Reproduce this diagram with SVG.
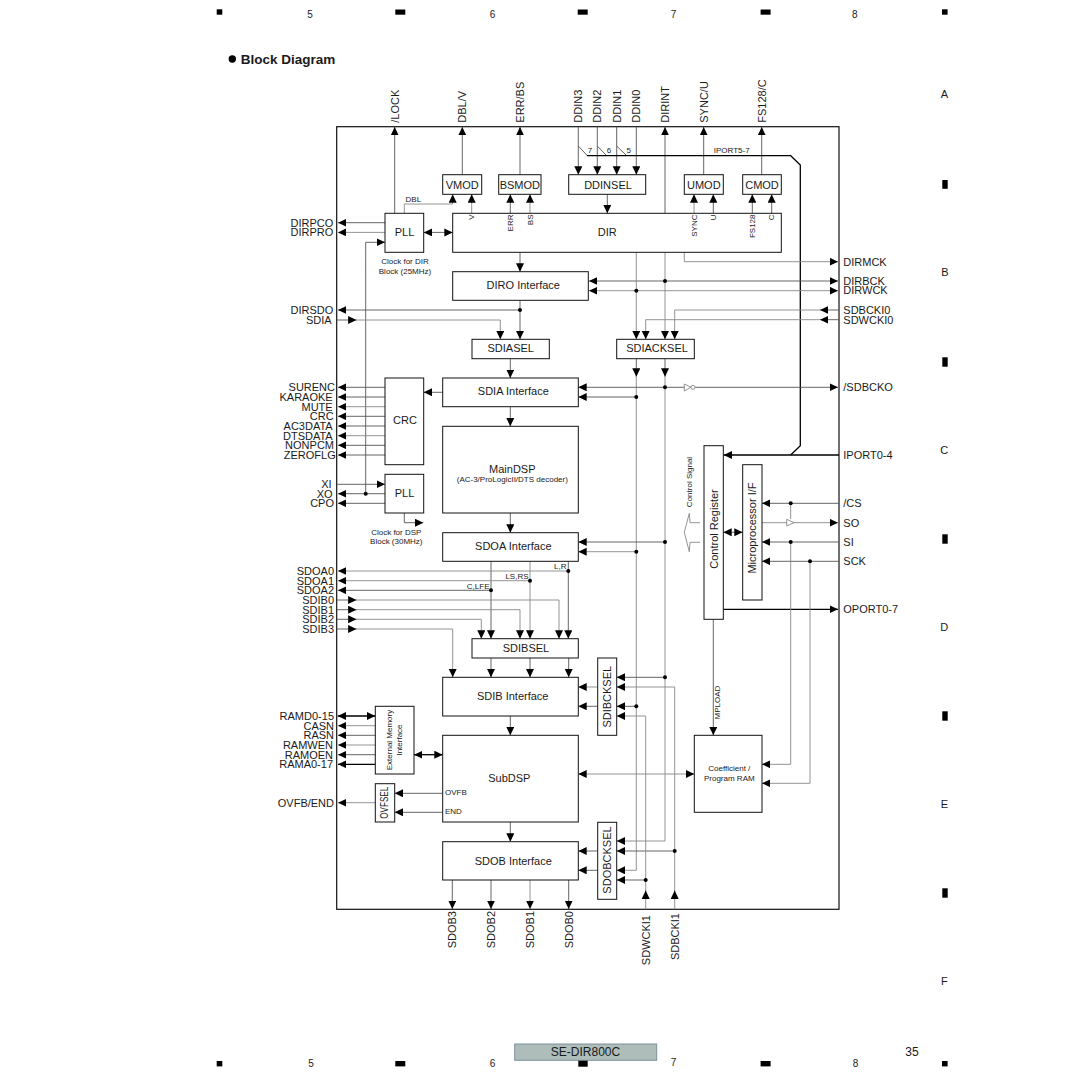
<svg xmlns="http://www.w3.org/2000/svg" width="1080" height="1080" viewBox="0 0 1080 1080">
<style>
text{font-family:"Liberation Sans",Arial,sans-serif;fill:#1a1a1a;dominant-baseline:central}
.f11{font-size:11px}.f8{font-size:8px}.f10{font-size:10px}
.m{text-anchor:middle}.e{text-anchor:end}
.box{fill:#fff;stroke:#111;stroke-width:1}
.mark{fill:#000}
#sheet{opacity:.999}
#connectors path{fill:none;stroke:#555;stroke-width:.9}
#connectors .k{stroke:#000;stroke-width:1.3}
#connectors .g{stroke:#888;stroke-width:.9}
#connectors .a{marker-end:url(#ah)}
#connectors .d{marker-end:url(#ah);marker-start:url(#ah)}
#connectors circle{fill:#000}
.buf{fill:#fff;stroke:#888;stroke-width:.9}
</style>
<defs>
<marker id="ah" markerUnits="userSpaceOnUse" markerWidth="10" markerHeight="10" refX="8.4" refY="4" orient="auto-start-reverse"><path d="M0 0L8.4 4L0 8z" fill="#000"/></marker>
</defs>
<g id="sheet">
<rect width="1080" height="1080" fill="#fff"/>

<!-- page registration marks and grid references -->
<g id="page-frame">
<g class="mark">
<rect x="216.7" y="9.3" width="5.6" height="5.4"/><rect x="395.3" y="9.5" width="10" height="5.2"/><rect x="577.7" y="9.5" width="10" height="5.2"/><rect x="760.6" y="9.5" width="10" height="5.2"/><rect x="942" y="9.3" width="5.6" height="5.4"/>
<rect x="216.7" y="1061" width="5.6" height="5.4"/><rect x="395.3" y="1061" width="10" height="5.4"/><rect x="760.6" y="1061" width="10" height="5.4"/><rect x="942" y="1061" width="5.6" height="5.4"/>
<rect x="942.3" y="180" width="5.4" height="8.8"/><rect x="942.3" y="357.3" width="5.4" height="9.4"/><rect x="942.3" y="534.3" width="5.4" height="9.4"/><rect x="942.3" y="711.3" width="5.4" height="9.4"/><rect x="942.3" y="888.3" width="5.4" height="9.4"/>
</g>
<text class="f10 m" x="310" y="14">5</text><text class="f10 m" x="492.5" y="14">6</text><text class="f10 m" x="673.6" y="14">7</text><text class="f10 m" x="854.7" y="14">8</text>
<text class="f10 m" x="311" y="1063">5</text><text class="f10 m" x="492.5" y="1063">6</text><text class="f10 m" x="673.6" y="1062">7</text><text class="f10 m" x="855.6" y="1063">8</text>
<text class="f11 m" x="944.3" y="94.3">A</text><text class="f11 m" x="945" y="271.7">B</text><text class="f11 m" x="944.3" y="449.5">C</text><text class="f11 m" x="944.3" y="626.7">D</text><text class="f11 m" x="944.3" y="803.8">E</text><text class="f11 m" x="944.3" y="981">F</text>
<circle cx="232.3" cy="59" r="3.7" fill="#000"/>
<text x="240.7" y="59" style="font-size:13.5px;font-weight:bold">Block Diagram</text>
</g>

<g id="footer">
<rect x="514.7" y="1044" width="142" height="16.3" fill="#aebcba" stroke="#7d8f9b"/>
<text class="m" x="585.5" y="1052" style="font-size:12px">SE-DIR800C</text>
<rect class="mark" x="578.3" y="1060.7" width="9.4" height="6"/>
<text class="m" x="912" y="1052" style="font-size:12px">35</text>
</g>

<rect id="frame" x="336.7" y="126.7" width="502.3" height="782.6" fill="#fff" stroke="#111" stroke-width="1.2"/>

<!-- signal routing -->
<g id="connectors">
<!-- top edge outputs and DDIN inputs -->
<path class="a" d="M394.7 213.3V127"/>
<path class="a" d="M462.3 174.7V127"/>
<path class="a" d="M520 174.7V127"/>
<path class="a" d="M665 213.3V127"/>
<path class="a" d="M703.7 174.7V127"/>
<path class="a" d="M761.7 174.7V127"/>
<path class="a" d="M578.3 127V174.7"/>
<path class="a" d="M597.3 127V174.7"/>
<path class="a" d="M616.7 127V174.7"/>
<path class="a" d="M636.3 127V174.7"/>
<path d="M578.3 146L586.7 155M597.3 146L606 155M616.7 146L626 155"/>
<path class="k" d="M586.7 155.7H790.7L800.3 165V445.7L790.7 455"/>
<!-- mode blocks -->
<path class="g a" d="M404.3 213.3V204H452.7V194.3"/>
<path class="g a" d="M471.7 213.3V194.3"/>
<path class="a" d="M510.3 213.3V194.3"/>
<path class="g a" d="M530 213.3V194.3"/>
<path class="g a" d="M694 213.3V194.3"/>
<path class="a" d="M713.3 213.3V194.3"/>
<path class="a" d="M752.3 213.3V194.3"/>
<path class="a" d="M771.7 213.3V194.3"/>
<path class="a" d="M607.3 194.3V213.3"/>
<!-- DIR PLL -->
<path class="a" d="M385 222.7H338"/>
<path class="g a" d="M385 232.4H338"/>
<path class="d" d="M423.7 232.4H452.7"/>
<path class="a" d="M365.7 493.7V242.3H385"/>
<!-- DIR outputs -->
<path class="a" d="M520 252.3V271.7"/>
<path class="g a" d="M684.3 252.3V261.7H838"/>
<path class="d" d="M589 281H838"/>
<path class="g d" d="M589 290.7H838"/>
<path class="g a" d="M636.3 252.3V339.3"/>
<path class="g a" d="M665 252.3V339.3"/>
<path class="a" d="M839 310H820"/><path class="g a" d="M820 310H674.7V339.3"/>
<path class="a" d="M839 319.7H820"/><path class="g a" d="M820 319.7H645.7V339.3"/>
<!-- SDIA input selection -->
<path class="a" d="M520 300.3V339.3"/>
<path class="a" d="M520 310H338"/>
<path class="a" d="M337 320H356.5"/><path class="g a" d="M356 320H500.3V339.3"/>
<path class="a" d="M510.3 358.7V378"/>
<path class="a" d="M442.7 392.3H423.7"/>
<path class="a" d="M385 387.3H338"/><path class="a" d="M385 397H338"/><path class="g a" d="M385 406.7H338"/><path class="a" d="M385 416.3H338"/><path class="a" d="M385 426H338"/><path class="g a" d="M385 435.7H338"/><path class="a" d="M385 445.3H338"/><path class="a" d="M385 455H338"/>
<!-- DSP PLL -->
<path class="a" d="M337 484.3H385"/>
<path class="a" d="M385 493.7H338"/>
<path class="a" d="M385 503.3H338"/>
<path class="a" d="M404.3 513V522.7H423.3"/>
<!-- audio data path -->
<path class="a" d="M510.3 406.7V426.3"/>
<path class="a" d="M510.3 513V532.7"/>
<path class="a" d="M510.3 716V735.3"/>
<path class="a" d="M510.3 822V841.7"/>
<path class="a" d="M491 561.3V638.7"/>
<path class="g a" d="M530 561.3V638.7"/>
<path class="a" d="M568.3 561.3V638.7"/>
<path class="g a" d="M568.3 571H338"/>
<path class="g a" d="M530 580.7H338"/>
<path class="a" d="M491 590.3H338"/>
<path class="a" d="M337 600H356.5"/><path class="g a" d="M356 600H559V638.7"/>
<path class="a" d="M337 609.7H356.5"/><path class="g a" d="M356 609.7H520V638.7"/>
<path class="a" d="M337 619.3H356.5"/><path class="g a" d="M356 619.3H481.3V638.7"/>
<path class="a" d="M337 629H356.5"/><path class="g a" d="M356 629H452.7V677.3"/>
<path class="a" d="M491 658V677.3"/>
<path class="a" d="M530 658V677.3"/>
<path class="a" d="M568.7 658V677.3"/>
<path class="a" d="M452.3 880V909"/>
<path class="a" d="M491 880V909"/>
<path class="g a" d="M530 880V909"/>
<path class="a" d="M568.7 880V909"/>
<!-- external memory and flags -->
<path class="k d" d="M337.7 716H375.3"/>
<path class="g a" d="M375.3 725.7H338"/>
<path class="a" d="M375.3 735.3H338"/>
<path class="g a" d="M375.3 745H338"/>
<path class="a" d="M375.3 754.7H338"/>
<path class="k a" d="M375.3 764.3H338"/>
<path class="k d" d="M414 754.7H442.7"/>
<path class="g a" d="M375.3 802.7H338"/>
<path class="a" d="M442.7 793.3H394.7"/>
<path class="a" d="M442.7 812.3H394.7"/>
<!-- clock distribution -->
<path class="a" d="M636.3 358.7V376.7"/><path class="g a" d="M636.3 376V870.3H616.7"/>
<path class="a" d="M665 358.7V376.7"/><path class="g a" d="M665 376V841H616.7"/>
<path class="d" d="M578.3 387.3H838"/>
<path class="a" d="M636.3 397H578.3"/>
<path class="a" d="M665 542H578.3"/>
<path class="g a" d="M636.3 551.7H578.3"/>
<path class="a" d="M665 677.3H616.7"/>
<path class="g a" d="M674.7 687H616.7"/>
<path class="a" d="M636.3 706.3H616.7"/>
<path class="g a" d="M645.7 716H616.7"/>
<path class="g a" d="M597.7 687H578.3"/>
<path class="a" d="M597.7 706.3H578.3"/>
<path class="a" d="M597.7 851H578.3"/>
<path class="a" d="M597.7 870.3H578.3"/>
<path class="a" d="M674.7 851H616.7"/>
<path class="a" d="M645.7 880H616.7"/>
<path class="g" d="M645.7 909.3V716"/>
<path class="g" d="M674.7 909.3V687"/>
<path class="a" d="M645.7 898.9V890.5"/>
<path class="a" d="M674.7 898.9V890.5"/>
<!-- control path -->
<path class="k a" d="M839 455H723.6"/>
<path class="d" d="M723.3 532.3H742.7"/>
<path class="k a" d="M723.3 609.3H838"/>
<path class="a" d="M713.3 619.3V735.3"/>
<path class="g d" d="M578.3 774H694.3"/>
<path class="a" d="M839 503.3H762"/>
<path class="g a" d="M762 522.7H838"/>
<path class="g" d="M790.7 503.3V519"/>
<path class="a" d="M839 542H762"/>
<path class="a" d="M839 561.3H762"/>
<path class="g a" d="M790.7 542V764.3H762"/>
<path class="g a" d="M810 561.3V783.3H762"/>
<path class="g" d="M700 522.7H690L689.3 513.3L684.3 532.3L689.3 551.7L690 542.3H700"/>
<polygon class="buf" points="684.3,384 691,387.3 684.3,391"/><circle class="buf" style="fill:#fff" cx="693" cy="387.3" r="2"/>
<polygon class="buf" points="786.7,519.3 794,522.7 786.7,526"/>
<!-- junction dots -->
<circle cx="665" cy="281" r="2"/><circle cx="636.3" cy="290.7" r="2"/><circle cx="520" cy="310" r="2"/>
<circle cx="665" cy="387.3" r="2"/><circle cx="636.3" cy="397" r="2"/><circle cx="665" cy="542" r="2"/><circle cx="636.3" cy="551.7" r="2"/>
<circle cx="365.7" cy="493.7" r="2"/><circle cx="568.3" cy="571" r="2"/><circle cx="530" cy="580.7" r="2"/><circle cx="491" cy="590.3" r="2"/>
<circle cx="665" cy="677.3" r="2"/><circle cx="636.3" cy="706.3" r="2"/><circle cx="674.7" cy="851" r="2"/><circle cx="645.7" cy="880" r="2"/>
<circle cx="790.7" cy="503.3" r="2"/><circle cx="790.7" cy="542" r="2"/><circle cx="810" cy="561.3" r="2"/>
</g>

<!-- functional blocks -->
<g id="vmod"><rect class="box" x="442.7" y="174.7" width="39" height="19.6"/><text class="f11 m" x="462.2" y="184.5">VMOD</text></g>
<g id="bsmod"><rect class="box" x="498.7" y="174.7" width="42.3" height="19.6"/><text class="f11 m" x="519.8" y="184.5">BSMOD</text></g>
<g id="ddinsel"><rect class="box" x="568.7" y="174.7" width="77" height="19.6"/><text class="f11 m" x="608" y="184.5">DDINSEL</text></g>
<g id="umod"><rect class="box" x="684.3" y="174.7" width="39" height="19.6"/><text class="f11 m" x="703.8" y="184.5">UMOD</text></g>
<g id="cmod"><rect class="box" x="742.7" y="174.7" width="38.6" height="19.6"/><text class="f11 m" x="762" y="184.5">CMOD</text></g>
<g id="pll-dir"><rect class="box" x="385" y="213.3" width="38.7" height="39"/><text class="f11 m" x="404.5" y="232.3">PLL</text></g>
<g id="dir"><rect class="box" x="452.7" y="213.3" width="328.6" height="39"/><text class="f11 m" x="607.3" y="232.3">DIR</text></g>
<g id="diro"><rect class="box" x="452.7" y="271.7" width="135.6" height="28.6"/><text class="f11 m" x="523.3" y="285.3">DIRO Interface</text></g>
<g id="sdiasel"><rect class="box" x="472" y="339.3" width="77.3" height="19.4"/><text class="f11 m" x="510.7" y="348.3">SDIASEL</text></g>
<g id="sdiacksel"><rect class="box" x="616.7" y="339.3" width="77.6" height="19.4"/><text class="f11 m" x="657" y="348.3">SDIACKSEL</text></g>
<g id="sdia"><rect class="box" x="442.7" y="378" width="135.6" height="28.7"/><text class="f11 m" x="513.3" y="391.3">SDIA Interface</text></g>
<g id="crc"><rect class="box" x="385" y="378" width="38.7" height="86.7"/><text class="f11 m" x="405" y="420.3">CRC</text></g>
<g id="maindsp"><rect class="box" x="442.7" y="426.3" width="135.6" height="86.7"/><text class="f11 m" x="512.3" y="469.3">MainDSP</text><text class="f8 m" x="512.3" y="479.3">(AC-3/ProLogicII/DTS decoder)</text></g>
<g id="pll-dsp"><rect class="box" x="385" y="474.3" width="38.7" height="38.7"/><text class="f11 m" x="404.5" y="493.3">PLL</text></g>
<g id="sdoa"><rect class="box" x="442.7" y="532.7" width="135.6" height="28.6"/><text class="f11 m" x="513.3" y="546.3">SDOA Interface</text></g>
<g id="sdibsel"><rect class="box" x="472" y="638.7" width="106.3" height="19.3"/><text class="f11 m" x="526" y="648">SDIBSEL</text></g>
<g id="sdib"><rect class="box" x="442.7" y="677.3" width="135.6" height="38.7"/><text class="f11 m" x="512.7" y="696.3">SDIB Interface</text></g>
<g id="subdsp"><rect class="box" x="442.7" y="735.3" width="135.6" height="86.7"/><text class="f11 m" x="509.3" y="777.7">SubDSP</text><text class="f8" x="445" y="792">OVFB</text><text class="f8" x="445" y="811.5">END</text></g>
<g id="sdob"><rect class="box" x="442.7" y="841.7" width="135.6" height="38.3"/><text class="f11 m" x="513.3" y="860.7">SDOB Interface</text></g>
<g id="extmem"><rect class="box" x="375.3" y="706.3" width="38.7" height="67.7"/><text class="f8 m" transform="rotate(-90 389.3 740)" x="389.3" y="740">External Memory</text><text class="f8 m" transform="rotate(-90 399.3 740)" x="399.3" y="740">Interface</text></g>
<g id="ovfsel"><rect class="box" x="375.3" y="783.7" width="19.4" height="38.3"/><text class="f10 m" transform="rotate(-90 385 802.7)" x="385" y="802.7" textLength="32" lengthAdjust="spacingAndGlyphs">OVFSEL</text></g>
<g id="sdibcksel"><rect class="box" x="597.7" y="658" width="19" height="77.3"/><text class="f11 m" transform="rotate(-90 606.7 696.7)" x="606.7" y="696.7">SDIBCKSEL</text></g>
<g id="sdobcksel"><rect class="box" x="597.7" y="822.3" width="19" height="77"/><text class="f11 m" transform="rotate(-90 606.7 860)" x="606.7" y="860">SDOBCKSEL</text></g>
<g id="control-register"><rect class="box" x="704" y="445.7" width="19.3" height="173.6"/><text class="f11 m" transform="rotate(-90 713.6 529)" x="713.6" y="529">Control Register</text></g>
<g id="micro-if"><rect class="box" x="742.7" y="464.7" width="19.3" height="135.3"/><text class="f11 m" transform="rotate(-90 752 528)" x="752" y="528">Microprocessor I/F</text></g>
<g id="coef-ram"><rect class="box" x="694.3" y="735.3" width="67.7" height="77"/><text class="f8 m" x="729.3" y="768.7">Coefficient /</text><text class="f8 m" x="729.3" y="778.3">Program RAM</text></g>

<!-- pin names on the left edge -->
<g id="left-pins" class="f11">
<text class="e" x="333.3" y="222.7">DIRPCO</text><text class="e" x="333.3" y="232.4">DIRPRO</text>
<text class="e" x="333.3" y="310">DIRSDO</text><text class="e" x="331.7" y="320">SDIA</text>
<text class="e" x="335" y="387.3">SURENC</text><text class="e" x="332.7" y="397">KARAOKE</text><text class="e" x="332.7" y="406.7">MUTE</text><text class="e" x="333.7" y="416.3">CRC</text><text class="e" x="332.7" y="426">AC3DATA</text><text class="e" x="332.7" y="435.7">DTSDATA</text><text class="e" x="334" y="445.3">NONPCM</text><text class="e" x="335.7" y="455">ZEROFLG</text>
<text class="e" x="331.7" y="484.3">XI</text><text class="e" x="332.7" y="493.7">XO</text><text class="e" x="334" y="503.3">CPO</text>
<text class="e" x="334" y="571">SDOA0</text><text class="e" x="334" y="580.7">SDOA1</text><text class="e" x="334" y="590.3">SDOA2</text><text class="e" x="334" y="600">SDIB0</text><text class="e" x="334" y="609.7">SDIB1</text><text class="e" x="334" y="619.3">SDIB2</text><text class="e" x="334" y="629">SDIB3</text>
<text class="e" x="334" y="716">RAMD0-15</text><text class="e" x="334" y="725.7">CASN</text><text class="e" x="334" y="735.3">RASN</text><text class="e" x="333" y="745">RAMWEN</text><text class="e" x="333" y="754.7">RAMOEN</text><text class="e" x="333" y="764.3">RAMA0-17</text>
<text class="e" x="334" y="802.7">OVFB/END</text>
</g>

<!-- pin names on the right edge -->
<g id="right-pins" class="f11">
<text x="843.3" y="261.7">DIRMCK</text><text x="843.3" y="281">DIRBCK</text><text x="843.3" y="290.3">DIRWCK</text><text x="843.3" y="310">SDBCKI0</text><text x="843.3" y="319.7">SDWCKI0</text><text x="843.3" y="387.3">/SDBCKO</text><text x="843.3" y="455">IPORT0-4</text><text x="843.3" y="503.3">/CS</text><text x="843.3" y="522.7">SO</text><text x="843.3" y="542">SI</text><text x="843.3" y="561.3">SCK</text><text x="843.3" y="609.3">OPORT0-7</text>
</g>

<!-- pin names on the top edge -->
<g id="top-pins" class="f11">
<text transform="rotate(-90 394.7 122.7)" x="394.7" y="122.7">/LOCK</text>
<text transform="rotate(-90 462.3 122.7)" x="462.3" y="122.7">DBL/V</text>
<text transform="rotate(-90 520 122.7)" x="520" y="122.7">ERR/BS</text>
<text transform="rotate(-90 578.3 122.7)" x="578.3" y="122.7">DDIN3</text>
<text transform="rotate(-90 597.3 122.7)" x="597.3" y="122.7">DDIN2</text>
<text transform="rotate(-90 616.7 122.7)" x="616.7" y="122.7">DDIN1</text>
<text transform="rotate(-90 636.3 122.7)" x="636.3" y="122.7">DDIN0</text>
<text transform="rotate(-90 665 122.7)" x="665" y="122.7">DIRINT</text>
<text transform="rotate(-90 703.7 122.7)" x="703.7" y="122.7">SYNC/U</text>
<text transform="rotate(-90 761.7 122.7)" x="761.7" y="122.7">FS128/C</text>
</g>

<!-- pin names on the bottom edge -->
<g id="bottom-pins" class="f11">
<text class="e" transform="rotate(-90 452.3 911)" x="452.3" y="911">SDOB3</text>
<text class="e" transform="rotate(-90 491 911)" x="491" y="911">SDOB2</text>
<text class="e" transform="rotate(-90 530 911)" x="530" y="911">SDOB1</text>
<text class="e" transform="rotate(-90 568.7 911)" x="568.7" y="911">SDOB0</text>
<text class="e" transform="rotate(-90 645.7 915)" x="645.7" y="915">SDWCKI1</text>
<text class="e" transform="rotate(-90 674.7 913)" x="674.7" y="913">SDBCKI1</text>
</g>

<!-- small signal annotations -->
<g id="annotations" class="f8">
<text class="m" x="413.3" y="199">DBL</text>
<text class="e" transform="rotate(-90 471.7 214.5)" x="471.7" y="214.5">V</text>
<text class="e" transform="rotate(-90 510.3 214.5)" x="510.3" y="214.5">ERR</text>
<text class="e" transform="rotate(-90 530 214.5)" x="530" y="214.5">BS</text>
<text class="e" transform="rotate(-90 694 214.5)" x="694" y="214.5">SYNC</text>
<text class="e" transform="rotate(-90 713.3 214.5)" x="713.3" y="214.5">U</text>
<text class="e" transform="rotate(-90 752.3 214.5)" x="752.3" y="214.5">FS128</text>
<text class="e" transform="rotate(-90 771.7 214.5)" x="771.7" y="214.5">C</text>
<text class="m" x="590" y="150.7">7</text><text class="m" x="609" y="150.7">6</text><text class="m" x="628.7" y="150.7">5</text>
<text class="m" x="731.7" y="150.7">IPORT5-7</text>
<text class="m" x="405" y="261.7">Clock for DIR</text><text class="m" x="405" y="271.7">Block (25MHz)</text>
<text class="m" x="396.3" y="532.3">Clock for DSP</text><text class="m" x="396.3" y="541.7">Block (30MHz)</text>
<text class="e" x="566.5" y="566.7">L,R</text><text class="e" x="528.5" y="576.3">LS,RS</text><text class="e" x="489.5" y="586">C,LFE</text>
<text class="m" transform="rotate(-90 689.3 482)" x="689.3" y="482">Control Signal</text>
<text class="e" transform="rotate(-90 717.3 685.7)" x="717.3" y="685.7">MPLOAD</text>
</g>
</g>
</svg>
